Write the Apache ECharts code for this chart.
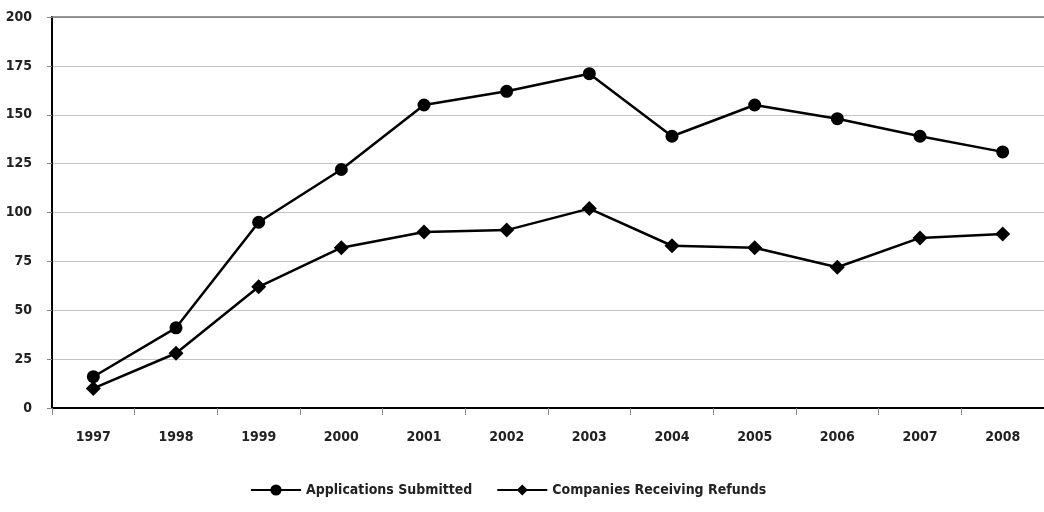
<!DOCTYPE html>
<html>
<head>
<meta charset="utf-8">
<script src="https://cdn.jsdelivr.net/npm/echarts@6/dist/echarts.min.js"></script>
<style>
  html, body { margin: 0; padding: 0; background: #fff; }
  #chart { width: 1044px; height: 512px; }
</style>
</head>
<body>
<div id="chart"></div>
<script>
const years = ['1997', '1998', '1999', '2000', '2001', '2002', '2003', '2004', '2005', '2006', '2007', '2008']
const applications = [16, 41, 95, 122, 155, 162, 171, 139, 155, 148, 139, 131]
const refunds = [10, 28, 62, 82, 90, 91, 102, 83, 82, 72, 87, 89]

const font = '"DejaVu Sans Condensed", sans-serif'
const chart = echarts.init(document.getElementById('chart'))

chart.setOption({
  animation: false,
  textStyle: { fontFamily: font },
  grid: { left: 52, right: 0, top: 17, bottom: 104 },
  legend: {
    bottom: 10,
    left: 245,
    itemGap: 24,
    itemWidth: 50,
    itemHeight: 14,
    textStyle: { fontSize: 14, fontWeight: 'bold', color: '#222', fontFamily: font },
    data: ['Applications Submitted', 'Companies Receiving Refunds']
  },
  xAxis: {
    type: 'category',
    data: years,
    boundaryGap: true,
    axisLine: { lineStyle: { color: '#000', width: 2 } },
    axisTick: { show: true, length: 7, lineStyle: { color: '#888' } },
    axisLabel: { color: '#222', fontSize: 14, fontWeight: 'bold', margin: 22, fontFamily: font }
  },
  yAxis: {
    type: 'value',
    min: 0,
    max: 200,
    interval: 25,
    axisLine: { show: true, lineStyle: { color: '#000', width: 2 } },
    axisTick: { show: true, length: 5, lineStyle: { color: '#888' } },
    axisLabel: { color: '#222', fontSize: 14, fontWeight: 'bold', margin: 20, fontFamily: font },
    splitLine: { lineStyle: { color: '#c4c4c4', width: 1 } }
  },
  series: [
    {
      name: 'Applications Submitted',
      type: 'line',
      data: applications,
      symbol: 'circle',
      symbolSize: 13,
      lineStyle: { color: '#000', width: 2.5 },
      itemStyle: { color: '#000' },
      markLine: {
        silent: true,
        symbol: 'none',
        label: { show: false },
        lineStyle: { color: '#777', width: 1.5, type: 'solid' },
        data: [{ yAxis: 200 }]
      }
    },
    {
      name: 'Companies Receiving Refunds',
      type: 'line',
      data: refunds,
      symbol: 'diamond',
      symbolSize: 15,
      lineStyle: { color: '#000', width: 2.5 },
      itemStyle: { color: '#000' }
    }
  ]
})
</script>
</body>
</html>
